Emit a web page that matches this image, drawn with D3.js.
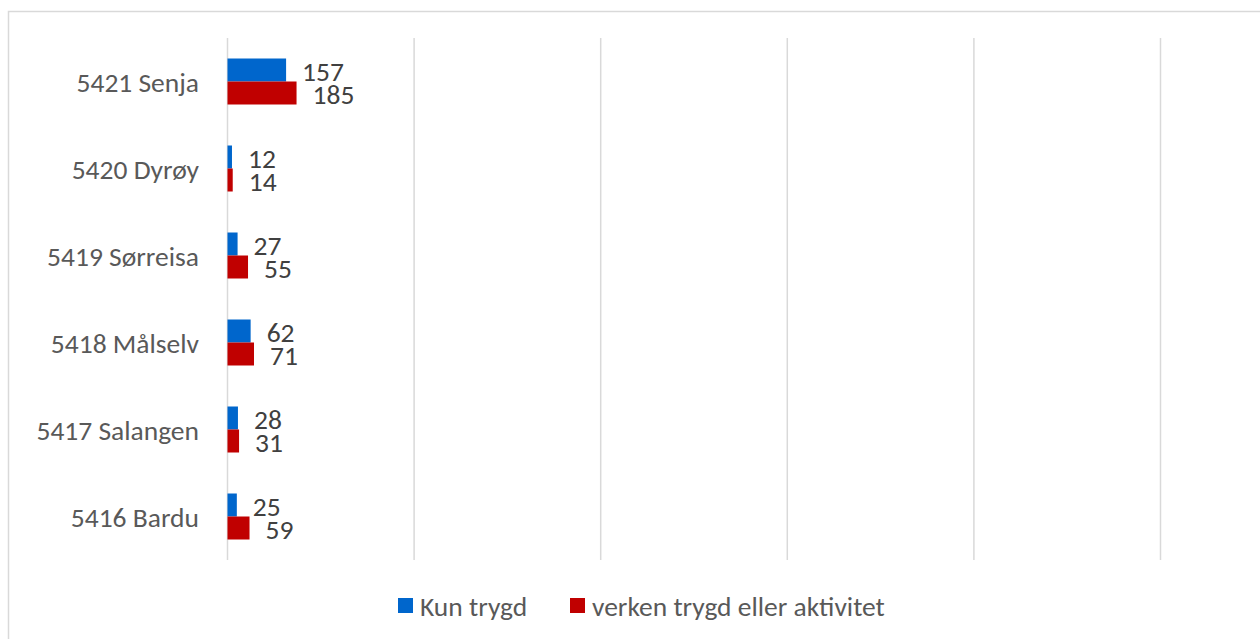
<!doctype html>
<html lang="en">
<head>
  <meta charset="utf-8">
  <style>
    body { margin: 0; background-color: white; }
    svg { display: block; background-color: white; }
    .frame { fill: none; stroke: #d9d9d9; stroke-width: 1.5px; }
    .grid line { stroke: #d9d9d9; stroke-width: 1.5px; }
    .cat { font-family: Carlito, Calibri, "Open Sans", sans-serif; font-size: 27.5px; fill: #595959; }
    .val { font-family: Carlito, Calibri, "Open Sans", sans-serif; font-size: 27.5px; fill: #404040; }
    .legend text { font-family: Carlito, Calibri, "Open Sans", sans-serif; font-size: 27.5px; fill: #595959; }
  </style>
</head>
<body>
<script src="https://cdn.jsdelivr.net/npm/d3@7"></script>
<script>
var width = 1260,
    height = 639;

// data, top to bottom
var categories = ["5421 Senja", "5420 Dyrøy", "5419 Sørreisa", "5418 Målselv", "5417 Salangen", "5416 Bardu"];
var kunTrygd = [157, 12, 27, 62, 28, 25];
var verken = [185, 14, 55, 71, 31, 59];
var seriesNames = ["Kun trygd", "verken trygd eller aktivitet"];
var colors = ["#0066cc", "#c00000"];
var gridTicks = [0, 500, 1000, 1500, 2000, 2500];

var svg = d3.select("body").append("svg")
  .attr("width", width)
  .attr("height", height);

// chart frame (right and bottom edges fall outside the picture)
svg.append("rect")
  .attr("class", "frame")
  .attr("x", 8.5)
  .attr("y", 11.5)
  .attr("width", 1400)
  .attr("height", 800);

var x = d3.scaleLinear().domain([0, 2500]).range([227.5, 1160.5]);
var y = d3.scaleBand().domain(categories).range([38, 560]);
var barH = 23;
var inner = d3.scaleBand().domain([0, 1])
  .range([y.bandwidth() / 2 - barH, y.bandwidth() / 2 + barH]);

// gridlines
svg.append("g")
  .attr("class", "grid")
  .selectAll("line")
  .data(gridTicks)
  .enter().append("line")
  .attr("x1", function(d) { return x(d); })
  .attr("x2", function(d) { return x(d); })
  .attr("y1", 38)
  .attr("y2", 560);

// category labels
svg.append("g")
  .selectAll("text")
  .data(categories)
  .enter().append("text")
  .attr("class", "cat")
  .attr("x", 199)
  .attr("y", function(d) { return y(d) + y.bandwidth() / 2 + 1; })
  .attr("dy", "0.35em")
  .attr("text-anchor", "end")
  .text(function(d) { return d; });

var rows = categories.map(function(c, i) {
  return { cat: c, vals: [kunTrygd[i], verken[i]] };
});

var groups = svg.append("g")
  .selectAll("g")
  .data(rows)
  .enter().append("g")
  .attr("transform", function(d) { return "translate(0," + y(d.cat) + ")"; });

groups.selectAll("rect")
  .data(function(d) { return d.vals; })
  .enter().append("rect")
  .attr("x", x(0))
  .attr("y", function(d, i) { return inner(i); })
  .attr("width", function(d) { return x(d) - x(0); })
  .attr("height", inner.bandwidth())
  .attr("fill", function(d, i) { return colors[i]; });

groups.selectAll("text")
  .data(function(d) { return d.vals; })
  .enter().append("text")
  .attr("class", "val")
  .attr("x", function(d) { return x(d) + 16; })
  .attr("y", function(d, i) { return inner(i) + inner.bandwidth() / 2 + 1.5; })
  .attr("dy", "0.35em")
  .text(function(d) { return d; });

// legend
var legendX = [398, 570];
var legend = svg.append("g").attr("class", "legend");
seriesNames.forEach(function(name, i) {
  legend.append("rect")
    .attr("x", legendX[i])
    .attr("y", 598)
    .attr("width", 15)
    .attr("height", 15)
    .attr("fill", colors[i]);
  legend.append("text")
    .attr("x", legendX[i] + 22)
    .attr("y", 606)
    .attr("dy", "0.35em")
    .text(name);
});
</script>
</body>
</html>
